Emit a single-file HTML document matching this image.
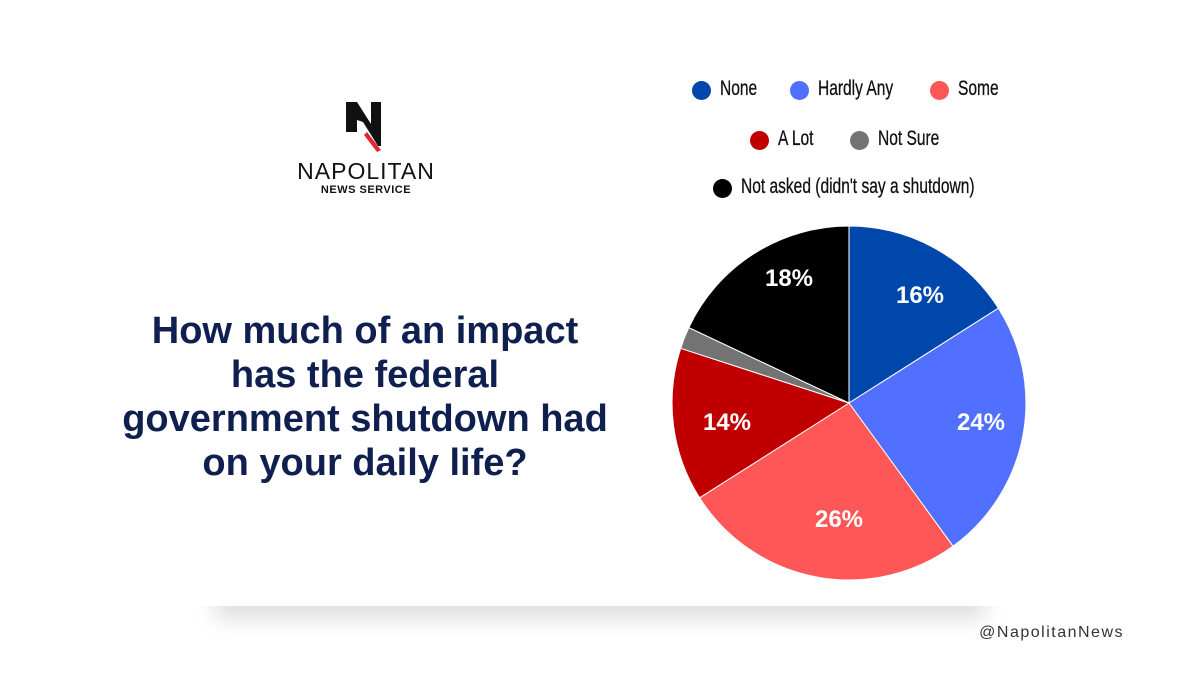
<!DOCTYPE html>
<html><head><style>
body{margin:0;width:1200px;height:675px;background:#fff;position:relative;overflow:hidden;font-family:"Liberation Sans",sans-serif}
.shadow{position:absolute;left:215px;top:560px;width:770px;height:45px;background:#fff;box-shadow:0 14px 22px rgba(0,0,0,0.13);}
.cover{position:absolute;left:0;top:0;width:1200px;height:606px;background:#fff}
.q{position:absolute;left:65px;top:309px;width:600px;text-align:center;color:#0f1f4f;font-weight:bold;font-size:38px;line-height:44px}
.dot{position:absolute;width:19px;height:19px;border-radius:50%}
.lt{position:absolute;font-size:21px;color:#111;white-space:nowrap;transform:scaleX(0.74);transform-origin:0 50%;-webkit-text-stroke:0.3px #111}
.brand{position:absolute;right:76px;top:624px;font-size:16px;letter-spacing:1.5px;color:#333}
</style></head><body>
<div class="shadow"></div><div class="cover"></div>
<svg style="position:absolute;left:0;top:0" width="1200" height="675">
<g>
<path d="M346 102h11l14 22v-22h10v44h-3l-15-24 -6-2v12h-11z" fill="#111"/>
<path d="M367 132l14 18 -4 2 -13-17z" fill="#e0282e"/>
</g>
<text x="366" y="179" text-anchor="middle" font-size="23" font-family="Liberation Sans" fill="#111" letter-spacing="1">NAPOLITAN</text>
<text x="366" y="193" text-anchor="middle" font-size="11" font-weight="bold" font-family="Liberation Sans" fill="#111" letter-spacing="0.5">NEWS SERVICE</text>
<g stroke="#fff" stroke-width="1">
<path d="M849 403L849 226A177 177 0 0 1 998.4 308.2Z" fill="#0047ab"/>
<path d="M849 403L998.4 308.2A177 177 0 0 1 953 546.2Z" fill="#5170ff"/>
<path d="M849 403L953 546.2A177 177 0 0 1 699.6 497.8Z" fill="#ff5757"/>
<path d="M849 403L699.6 497.8A177 177 0 0 1 680.7 348.3Z" fill="#c00000"/>
<path d="M849 403L680.7 348.3A177 177 0 0 1 688.8 327.6Z" fill="#737373"/>
<path d="M849 403L688.8 327.6A177 177 0 0 1 849 226Z" fill="#000"/>
</g>
<g font-family="Liberation Sans" font-weight="bold" font-size="24" fill="#fff" text-anchor="middle">
<text x="920" y="303">16%</text>
<text x="981" y="430">24%</text>
<text x="839" y="527">26%</text>
<text x="727" y="430">14%</text>
<text x="789" y="286">18%</text>
</g>
</svg>
<div class="q">How much of an impact<br>has the federal<br>government shutdown had<br>on your daily life?</div>
<div class="dot" style="left:692px;top:81px;background:#0047ab"></div><div class="lt" style="left:720px;top:77px">None</div>
<div class="dot" style="left:790px;top:81px;background:#5170ff"></div><div class="lt" style="left:818px;top:77px">Hardly Any</div>
<div class="dot" style="left:930px;top:81px;background:#ff5757"></div><div class="lt" style="left:958px;top:77px">Some</div>
<div class="dot" style="left:750px;top:131px;background:#c00000"></div><div class="lt" style="left:778px;top:127px">A Lot</div>
<div class="dot" style="left:850px;top:131px;background:#737373"></div><div class="lt" style="left:878px;top:127px">Not Sure</div>
<div class="dot" style="left:713px;top:179px;background:#000"></div><div class="lt" style="left:741px;top:175px">Not asked (didn't say a shutdown)</div>
<div class="brand">@NapolitanNews</div>
</body></html>
